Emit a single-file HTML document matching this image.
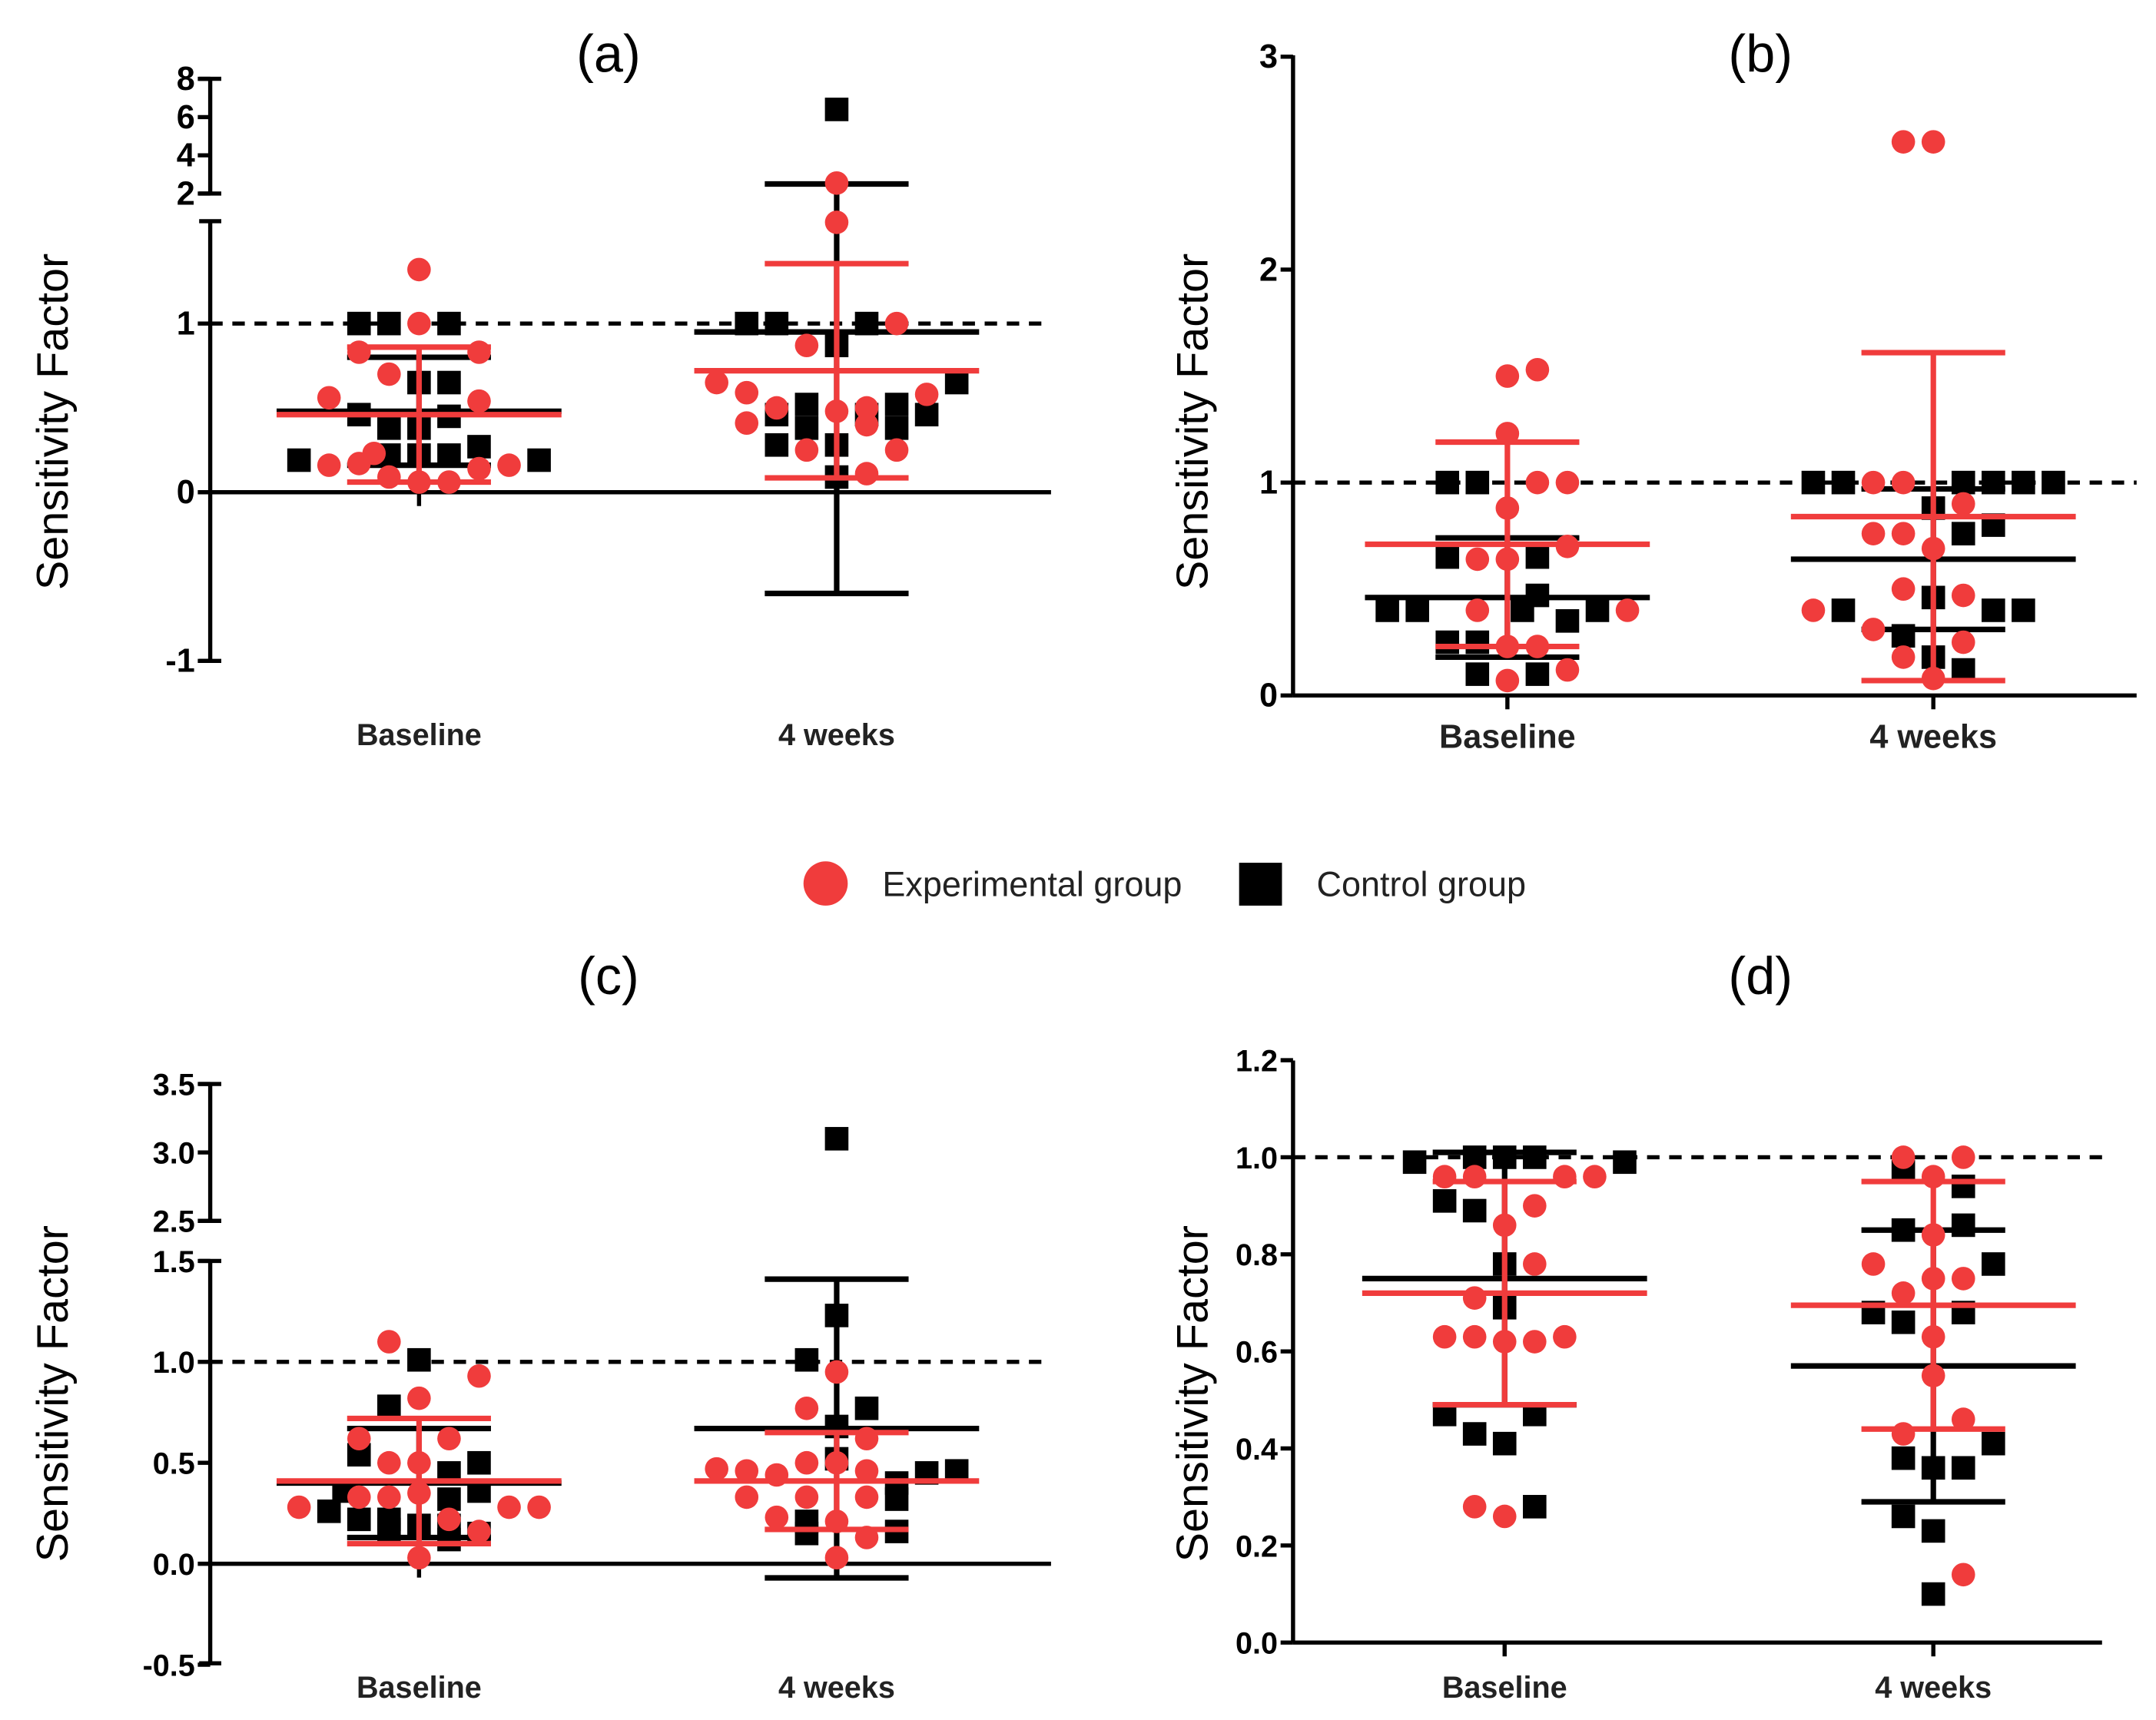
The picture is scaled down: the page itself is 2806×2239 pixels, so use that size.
<!DOCTYPE html>
<html><head><meta charset="utf-8"><style>
html,body{margin:0;padding:0;background:#fff;}
svg{display:block;}
text{font-family:"Liberation Sans",sans-serif;}
</style></head><body>
<svg id="chart" width="2806" height="2239" viewBox="0 0 1559 1244" xmlns="http://www.w3.org/2000/svg">
<g id="root"></g>
</svg>
<script>
// ---------- data ----------
const categories = ["Baseline", "4 weeks"];
const legendLabels = ["Experimental group", "Control group"];
const panelTitles = ["(a)", "(b)", "(c)", "(d)"];
// points: [jitter slot, value]
const aBaseCtrl = [[-4,0.19],[-2,1],[-1,1],[1,1],[0,0.65],[1,0.65],[-2,0.46],[-1,0.38],[0,0.38],[1,0.45],[-1,0.22],[0,0.22],[1,0.22],[2,0.27],[4,0.19]];
const aBaseExp = [[0,1.32],[0,1],[-2,0.83],[2,0.83],[-1,0.7],[-3,0.56],[2,0.54],[-3,0.16],[-2,0.17],[-1.5,0.23],[-1,0.09],[0,0.06],[1,0.06],[2,0.14],[3,0.16]];
const a4Ctrl = [[-3,1],[-2,1],[1,1],[0,0.87],[4,0.65],[-1,0.52],[-2,0.46],[-2,0.28],[-1,0.38],[1,0.46],[2,0.52],[2,0.38],[3,0.46],[0,0.28],[0,0.09],[0,6.4]];
const a4Exp = [[0,2.55],[0,1.6],[2,1],[-1,0.87],[-4,0.65],[-3,0.59],[-3,0.41],[-2,0.5],[0,0.48],[1,0.5],[1,0.4],[3,0.58],[-1,0.25],[2,0.25],[1,0.11]];
const aMeanCtrl = [0.48, 0.95], aSdCtrl = [0.32, 1.55];
const aMeanExp = [0.46, 0.72], aSdExp = [0.40, 0.635];

const bBaseCtrl = [[-4,0.4],[-3,0.4],[-2,1],[-1,1],[-2,0.65],[1,0.65],[1,0.47],[0.5,0.4],[2,0.35],[3,0.4],[-2,0.25],[-1,0.25],[-1,0.1],[1,0.1]];
const bBaseExp = [[0,1.5],[1,1.53],[0,1.23],[1,1],[2,1],[0,0.88],[-1,0.64],[0,0.64],[2,0.7],[-1,0.4],[4,0.4],[0,0.23],[1,0.23],[2,0.12],[0,0.07]];
const b4Ctrl = [[-4,1],[-3,1],[2,1],[3,1],[4,1],[1,1],[0,0.88],[1,0.76],[2,0.8],[-3,0.4],[0,0.46],[2,0.4],[3,0.4],[-1,0.28],[0,0.18],[1,0.12]];
const b4Exp = [[-1,2.6],[0,2.6],[-2,1],[-1,1],[1,0.9],[-2,0.76],[-1,0.76],[0,0.69],[-1,0.5],[1,0.47],[-4,0.4],[-2,0.31],[1,0.25],[-1,0.18],[0,0.08]];
const bMeanCtrl = [0.46, 0.64], bSdCtrl = [0.28, 0.33];
const bMeanExp = [0.71, 0.84], bSdExp = [0.48, 0.77];

const cBaseCtrl = [[0,1.01],[-1,0.78],[-2,0.54],[-2.5,0.36],[-3,0.26],[-2,0.22],[-1,0.22],[0,0.19],[1,0.19],[2,0.15],[1,0.32],[2,0.36],[1,0.45],[2,0.5],[1,0.12],[-1,0.17]];
const cBaseExp = [[-1,1.1],[2,0.93],[0,0.82],[-2,0.62],[1,0.62],[-1,0.5],[0,0.5],[-4,0.28],[-2,0.33],[-1,0.33],[0,0.35],[3,0.28],[4,0.28],[1,0.22],[2,0.16],[0,0.03]];
const c4Ctrl = [[0,3.1],[0,1.23],[-1,1.01],[1,0.77],[0,0.68],[0,0.52],[2,0.32],[3,0.45],[4,0.46],[2,0.4],[-1,0.21],[2,0.16],[-1,0.15]];
const c4Exp = [[0,0.95],[-1,0.77],[1,0.62],[-4,0.47],[-3,0.46],[-2,0.44],[-1,0.5],[0,0.5],[1,0.46],[-3,0.33],[-1,0.33],[1,0.33],[-2,0.23],[0,0.21],[1,0.13],[0,0.03]];
const cMeanCtrl = [0.40, 0.67], cSdCtrl = [0.27, 0.74];
const cMeanExp = [0.41, 0.41], cSdExp = [0.31, 0.24];

const dBaseCtrl = [[-3,0.99],[-1,1],[0,1],[1,1],[4,0.99],[-2,0.91],[-1,0.89],[0,0.78],[0,0.69],[-2,0.47],[1,0.47],[-1,0.43],[0,0.41],[1,0.28]];
const dBaseExp = [[-2,0.96],[-1,0.96],[2,0.96],[3,0.96],[1,0.9],[0,0.86],[1,0.78],[-1,0.71],[-2,0.63],[-1,0.63],[1,0.62],[2,0.63],[0,0.62],[-1,0.28],[0,0.26]];
const d4Ctrl = [[-1,0.97],[1,0.94],[-1,0.85],[1,0.86],[2,0.78],[-2,0.68],[1,0.68],[-1,0.66],[2,0.41],[-1,0.38],[0,0.36],[1,0.36],[-1,0.26],[0,0.23],[0,0.1]];
const d4Exp = [[-1,1],[1,1],[0,0.96],[0,0.84],[-2,0.78],[0,0.75],[1,0.75],[-1,0.72],[0,0.63],[0,0.55],[1,0.46],[-1,0.43],[1,0.14]];
const dMeanCtrl = [0.75, 0.57], dSdCtrl = [0.26, 0.28];
const dMeanExp = [0.72, 0.695], dSdExp = [0.23, 0.255];

const aTicksLow = [-1, 0, 1], aTicksHigh = [2, 4, 6, 8];
const bTicks = [0, 1, 2, 3];
const cTicksLow = ["-0.5","0.0","0.5","1.0","1.5"], cTicksHigh = ["2.5","3.0","3.5"];
const dTicks = ["0.0","0.2","0.4","0.6","0.8","1.0","1.2"];

// ---------- drawing ----------
const NS = "http://www.w3.org/2000/svg";
const root = document.getElementById("root");
const RED = "#f03c3c";
function mk(tag, attrs, parent) {
  const e = document.createElementNS(NS, tag);
  for (const k in attrs) e.setAttribute(k, attrs[k]);
  (parent || root).appendChild(e);
  return e;
}
function txt(s, x, y, size, anchor, weight, parent, fill) {
  const t = mk("text", {x: x, y: y, "font-size": size, "text-anchor": anchor, "font-weight": weight || "normal", fill: fill || "#000"}, parent);
  t.textContent = s;
  return t;
}

const panels = [
  {key:"a", title:panelTitles[0], ax:152, x1:760, cx:[303,605], titleX:440, titleY:52, labelY:539, labelSize:22, ytOff:114,
   y: v => v <= 1.75 ? 356 - 122*v : 140 - (v-2)*13.83, zero:0, base:aBaseCtrl, baseE:aBaseExp, w4:a4Ctrl, w4E:a4Exp,
   mC:aMeanCtrl, sC:aSdCtrl, mE:aMeanExp, sE:aSdExp, segs:[[160,478],[57,140]],
   ticks:[].concat(aTicksLow.map(v=>[v,String(v)]), aTicksHigh.map(v=>[v,String(v)])), tickSize:24, titleCY:305},
  {key:"b", title:panelTitles[1], ax:935, x1:1545, cx:[1090,1398], titleX:1273, titleY:52, labelY:541, labelSize:24, ytOff:73,
   y: v => 503 - 154*v, zero:0, base:bBaseCtrl, baseE:bBaseExp, w4:b4Ctrl, w4E:b4Exp,
   mC:bMeanCtrl, sC:bSdCtrl, mE:bMeanExp, sE:bSdExp, segs:[[40,503]],
   ticks:bTicks.map(v=>[v,String(v)]), tickSize:24, titleCY:305},
  {key:"c", title:panelTitles[2], ax:152, x1:760, cx:[303,605], titleX:440, titleY:719, labelY:1228, labelSize:22, ytOff:114,
   y: v => v <= 1.7 ? 1131 - 146*v : 883 - (v-2.5)*99, zero:0, base:cBaseCtrl, baseE:cBaseExp, w4:c4Ctrl, w4E:c4Exp,
   mC:cMeanCtrl, sC:cSdCtrl, mE:cMeanExp, sE:cSdExp, segs:[[912,1203],[784,883]],
   ticks:[].concat(cTicksLow.map(s=>[parseFloat(s),s]), cTicksHigh.map(s=>[parseFloat(s),s])), tickSize:22, titleCY:1008},
  {key:"d", title:panelTitles[3], ax:935, x1:1520, cx:[1088,1398], titleX:1273, titleY:719, labelY:1228, labelSize:22, ytOff:73,
   y: v => 1188 - 351*v, zero:0, base:dBaseCtrl, baseE:dBaseExp, w4:d4Ctrl, w4E:d4Exp,
   mC:dMeanCtrl, sC:dSdCtrl, mE:dMeanExp, sE:dSdExp, segs:[[767,1188]],
   ticks:dTicks.map(s=>[parseFloat(s),s]), tickSize:22, titleCY:1008}
];
const SLOT = 21.7;

panels.forEach(p => {
  const g = mk("g", {});
  
  
  const t = txt(p.title, p.titleX, p.titleY, 38, "middle", "normal", g);
  
  
  const yt = txt("Sensitivity  Factor", 0, 0, 32, "middle", "normal", g);
  yt.setAttribute("transform", "translate(" + (p.ax - p.ytOff + 11) + "," + p.titleCY + ") rotate(-90)");
  
  
  p.segs.forEach(s => {
    const l = mk("line", {x1:p.ax, y1:s[0], x2:p.ax, y2:s[1], stroke:"#000", "stroke-width":3}, g);
    
    
    if (p.segs.length > 1) {
      mk("line", {x1:p.ax-8, y1:s[0], x2:p.ax+8, y2:s[0], stroke:"#000", "stroke-width":3}, g);
      mk("line", {x1:p.ax-8, y1:s[1], x2:p.ax+8, y2:s[1], stroke:"#000", "stroke-width":3}, g);
    }
  });
  p.ticks.forEach(tk => {
    const yy = p.y(tk[0]);
    mk("line", {x1:p.ax-9, y1:yy, x2:p.ax, y2:yy, stroke:"#000", "stroke-width":3}, g);
    const tl = txt(tk[1], p.ax-11, yy+8, p.tickSize, "end", "bold", g);
    
    
  });
  const xz = p.y(p.zero);
  const xa = mk("line", {x1:p.ax, y1:xz, x2:p.x1, y2:xz, stroke:"#000", "stroke-width":3}, g);
  
  
  const d1 = mk("line", {x1:p.ax, y1:p.y(1), x2:p.x1, y2:p.y(1), stroke:"#000", "stroke-width":3, "stroke-dasharray":"9,7"}, g);
  
  
  categories.forEach((c, i) => {
    mk("line", {x1:p.cx[i], y1:xz, x2:p.cx[i], y2:xz+10, stroke:"#000", "stroke-width":3}, g);
    const cl = txt(c, p.cx[i], p.labelY, p.labelSize, "middle", "bold", g, "#222");
    
    
  });
  const groups = [[p.base, p.w4, p.mC, p.sC, "#000"], [p.baseE, p.w4E, p.mE, p.sE, RED]];
  groups.forEach((gr, gi) => {
    const col = gr[4];
    [gr[0], gr[1]].forEach((pts, ci) => {
      pts.forEach(pt => {
        const x = p.cx[ci] + pt[0]*SLOT, y = p.y(pt[1]);
        let m;
        if (gi === 0) m = mk("rect", {x:x-8.5, y:y-8.5, width:17, height:17, fill:"#000"}, g);
        else m = mk("circle", {cx:x, cy:y, r:8.5, fill:col}, g);
        
        
      });
      const mean = gr[2][ci], sd = gr[3][ci], cx = p.cx[ci];
      const lo = p.y(mean - sd), hi = p.y(mean + sd), ym = p.y(mean);
      const bar = mk("g", {stroke:col, "stroke-width":4}, g);
      
      
      mk("line", {x1:cx, y1:lo, x2:cx, y2:hi}, bar);
      mk("line", {x1:cx-52, y1:lo, x2:cx+52, y2:lo}, bar);
      mk("line", {x1:cx-52, y1:hi, x2:cx+52, y2:hi}, bar);
      mk("line", {x1:cx-103, y1:ym, x2:cx+103, y2:ym}, bar);
    });
  });
});

const lg = mk("g", {});


const le1 = mk("circle", {cx:597, cy:639, r:16, fill:RED}, lg);


const lt1 = txt(legendLabels[0], 638, 648, 25, "start", "normal", lg, "#222");


const le2 = mk("rect", {x:896, y:624, width:31, height:31, fill:"#000"}, lg);


const lt2 = txt(legendLabels[1], 952, 648, 25, "start", "normal", lg, "#222");


</script>
</body></html>
